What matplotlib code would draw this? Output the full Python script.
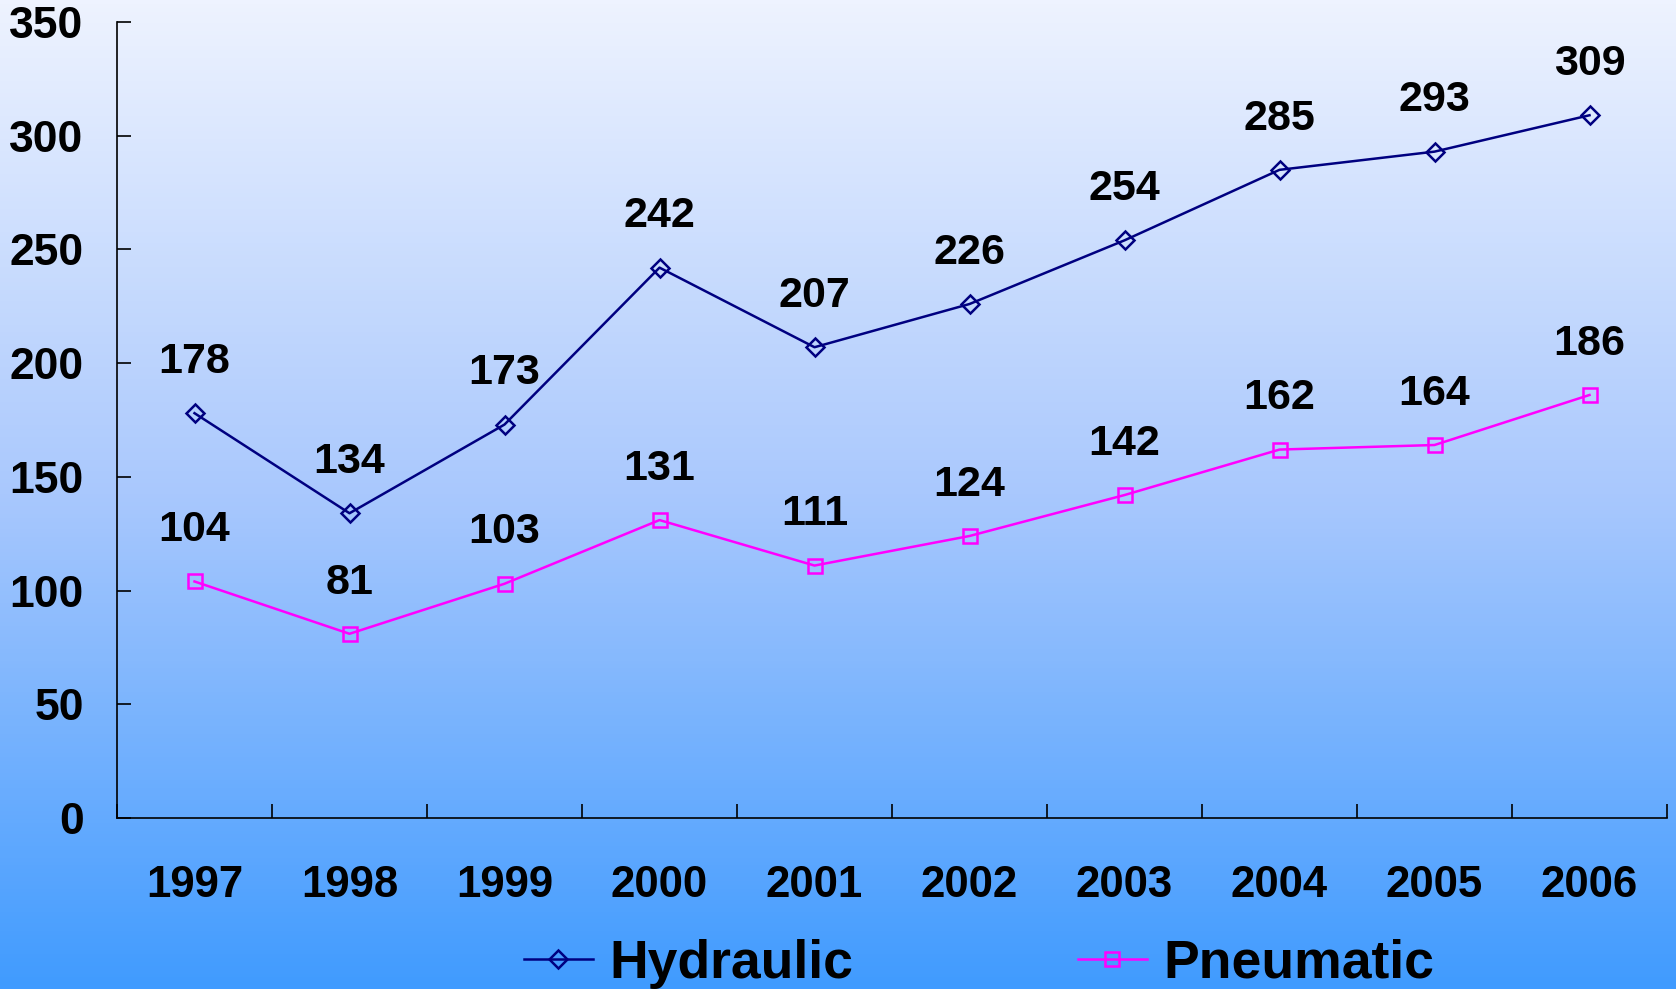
import numpy as np
import matplotlib.pyplot as plt
from matplotlib.colors import LinearSegmentedColormap
from matplotlib.ticker import FixedLocator

years = ["1997", "1998", "1999", "2000", "2001", "2002", "2003", "2004", "2005", "2006"]
hydraulic = [178, 134, 173, 242, 207, 226, 254, 285, 293, 309]
pneumatic = [104, 81, 103, 131, 111, 124, 142, 162, 164, 186]

plt.rcParams['font.family'] = ['Liberation Sans', 'DejaVu Sans']
plt.rcParams['font.weight'] = 'bold'

fig = plt.figure(figsize=(16.76, 9.89), dpi=100)

# background gradient over the whole figure
bg = fig.add_axes([0, 0, 1, 1], zorder=0)
grad = LinearSegmentedColormap.from_list("bg", ["#eef3ff", "#a9c8fd", "#409bff"])
bg.imshow(np.linspace(0, 1, 256).reshape(-1, 1), aspect="auto", cmap=grad,
          extent=[0, 1, 0, 1], origin="upper")
bg.axis("off")

W, H = 1676, 989
ax = fig.add_axes([117 / W, 1 - 818 / H, (1667 - 117) / W, (818 - 22) / H], zorder=1)
ax.patch.set_alpha(0)

x = np.arange(len(years))
ax.plot(x, hydraulic, color="#000080", lw=1.8, marker="D", ms=9.5,
        mfc="none", mec="#000080", mew=1.8, label="Hydraulic")
ax.plot(x, pneumatic, color="#ff00ff", lw=1.8, marker="s", ms=10.5,
        mfc="none", mec="#ff00ff", mew=1.8, label="Pneumatic")

for xi, v in zip(x, hydraulic):
    ax.annotate(str(v), (xi, v), xytext=(0, 29), textcoords="offset points",
                ha="center", va="baseline", fontsize=31, fontweight="bold")
for xi, v in zip(x, pneumatic):
    ax.annotate(str(v), (xi, v), xytext=(0, 29), textcoords="offset points",
                ha="center", va="baseline", fontsize=31, fontweight="bold")

ax.set_xlim(-0.5, len(years) - 0.5)
ax.set_ylim(0, 350)
ax.set_yticks(np.arange(0, 351, 50))
ax.set_xticks(x)
ax.set_xticklabels(years)
ax.xaxis.set_minor_locator(FixedLocator(np.arange(-0.5, len(years), 1.0)))
ax.tick_params(axis="x", which="major", length=0, pad=34, labelsize=31.5)
ax.tick_params(axis="x", which="minor", direction="in", length=10, width=1.2)
ax.tick_params(axis="y", direction="in", length=10, width=1.2, pad=24, labelsize=32)
for lab in ax.get_xticklabels() + ax.get_yticklabels():
    lab.set_fontweight("bold")

for s in ["top", "right"]:
    ax.spines[s].set_visible(False)
for s in ["left", "bottom"]:
    ax.spines[s].set_linewidth(1.2)

leg = fig.legend(loc="center", bbox_to_anchor=(0.584, 1 - 964 / H), ncol=2,
                 frameon=False, fontsize=38.5, handlelength=1.3,
                 handletextpad=0.3, columnspacing=4.2)
for t in leg.get_texts():
    t.set_fontweight("bold")

fig.savefig("out.png", dpi=100)
